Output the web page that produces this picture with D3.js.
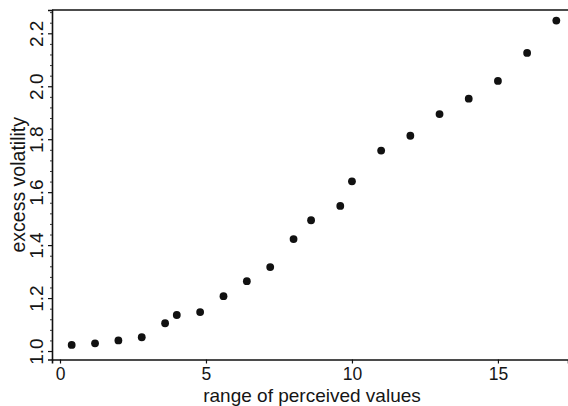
<!DOCTYPE html>
<html><head><meta charset="utf-8">
<script src="https://cdn.jsdelivr.net/npm/d3@7"></script>
<style>
html,body{margin:0;padding:0;background:#fff;}
svg{display:block;}
text{font-family:"Liberation Sans",Arial,Helvetica,sans-serif;fill:#151515;}
</style></head>
<body>
<svg id="chart" width="568" height="406"></svg>
<script>
const rangeValues = [0.4,1.2,2.0,2.8,3.6,4.0,4.8,5.6,6.4,7.2,8.0,8.6,9.6,10.0,11,12,13,14,15,16,17];
const excessVolatility = [1.023,1.029,1.040,1.052,1.105,1.136,1.147,1.207,1.264,1.317,1.423,1.494,1.548,1.641,1.757,1.813,1.895,1.953,2.020,2.126,2.248];
const xTicks = [0,5,10,15];
const yTicks = [1.0,1.2,1.4,1.6,1.8,2.0,2.2];
const yMinorTicks = d3.range(0,33).map(i=>+(1.0+i*0.04).toFixed(2)).filter(v=>v<=2.28 && !yTicks.some(t=>Math.abs(t-v)<1e-6));
const xLabel = "range of perceived values";
const yLabel = "excess volatility";

const W=568,H=406;
const m={left:52,top:10,right:0,bottom:46.5};
const svg=d3.select("#chart");
const x=d3.scaleLinear().domain([-0.274,17.4]).range([m.left,W-m.right]);
const y=d3.scaleLinear().domain([0.968,2.288]).range([H-m.bottom,m.top]);

svg.append("line").attr("x1",m.left).attr("x2",W).attr("y1",m.top).attr("y2",m.top)
  .attr("stroke","#111").attr("stroke-width",1.6);

const xAxis=svg.append("g").attr("transform",`translate(0,${H-m.bottom})`)
  .call(d3.axisBottom(x).tickValues(xTicks).tickFormat(d3.format("d")).tickSize(4).tickPadding(4));
xAxis.select(".domain").attr("stroke","#111").attr("stroke-width",1.6);
xAxis.selectAll(".tick line").attr("stroke","#111").attr("stroke-width",1.2);
xAxis.selectAll(".tick text").attr("font-size",17.5).attr("font-family","Liberation Sans, Arial, sans-serif").attr("fill","#151515");

const yAxis=svg.append("g").attr("transform",`translate(${m.left},0)`)
  .call(d3.axisLeft(y).tickValues(yTicks).tickFormat(d3.format(".1f")).tickSize(4).tickPadding(6));
yAxis.select(".domain").attr("stroke","#111").attr("stroke-width",1.6);
yAxis.selectAll(".tick line").attr("stroke","#111").attr("stroke-width",1.2);
yAxis.selectAll(".tick text")
  .attr("font-size",19).attr("font-family","Liberation Sans, Arial, sans-serif").attr("fill","#151515")
  .attr("text-anchor","middle").attr("dy",0).attr("x",0)
  .attr("transform","translate(-9,0) rotate(-90)");

const yMinor=svg.append("g").attr("transform",`translate(${m.left},0)`)
  .call(d3.axisLeft(y).tickValues(yMinorTicks).tickFormat("").tickSize(2));
yMinor.select(".domain").remove();
yMinor.selectAll(".tick line").attr("stroke","#333").attr("stroke-width",1);

svg.append("g").selectAll("circle").data(rangeValues.map((v,i)=>[v,excessVolatility[i]]))
  .join("circle").attr("cx",d=>x(d[0])).attr("cy",d=>y(d[1])).attr("r",3.9).attr("fill","#111");

svg.append("text").attr("x",312).attr("y",402).attr("text-anchor","middle")
  .attr("font-size",19).text(xLabel);
svg.append("text").attr("transform",`translate(25,${(m.top+H-m.bottom)/2}) rotate(-90)`)
  .attr("text-anchor","middle").attr("font-size",19.5).text(yLabel);
</script>
</body></html>
